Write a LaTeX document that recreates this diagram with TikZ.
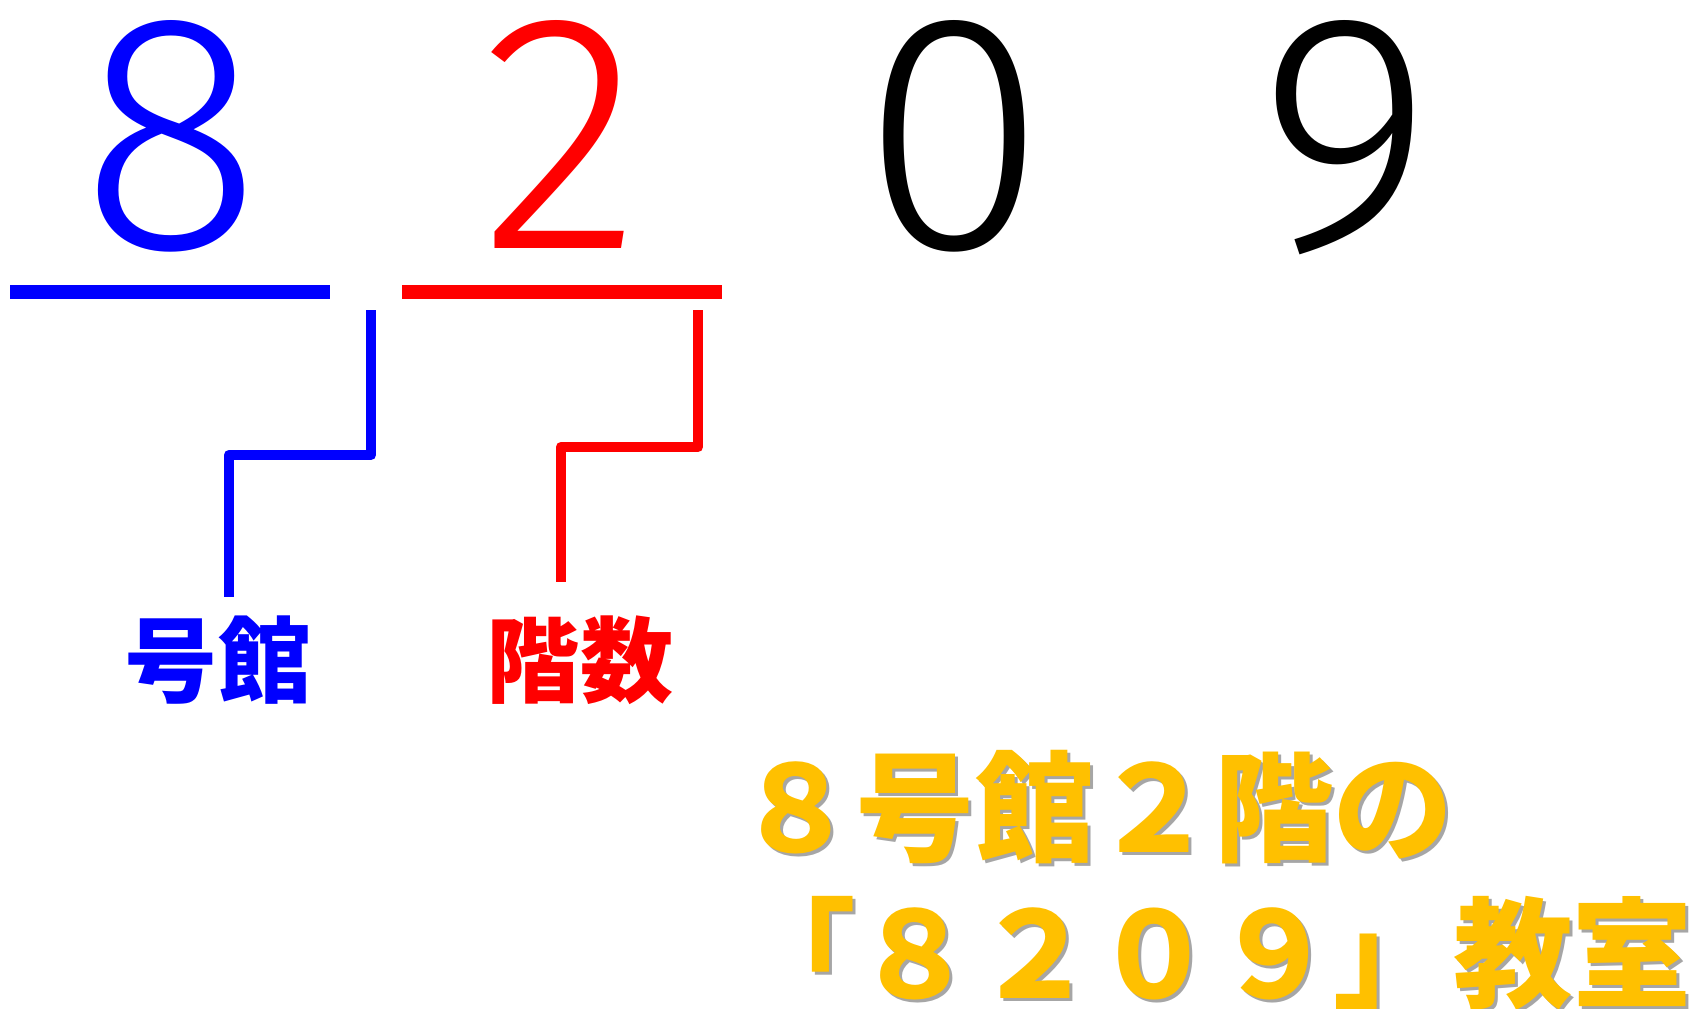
\documentclass[tikz,border=0pt]{standalone}
\usepackage{fontspec}
\setmainfont{Liberation Sans}
\newfontfamily\jpfont{Noto Sans CJK JP}
\newfontfamily\numfont{Fira Sans Light}
\definecolor{ygold}{HTML}{FFC000}
\definecolor{pblue}{HTML}{0000FF}
\definecolor{pred}{HTML}{FF0000}

\begin{document}
\begin{tikzpicture}[x=0.02cm, y=-0.02cm,
    digit/.style={inner sep=0, anchor=base, font=\numfont\fontsize{192}{192}\selectfont},
    bar/.style={line width=0.28cm},
    link/.style={line width=0.21cm, line join=round},
    part/.style={inner sep=0, font=\jpfont\bfseries\fontsize{53}{53}\selectfont},
    room/.style={inner sep=0, anchor=base west, font=\jpfont\bfseries\fontsize{68}{68}\selectfont}
]
\useasboundingbox (0,0) rectangle (1696,1008);

\node[digit, pblue] (d8) at (171,248) {8};
\node[digit, pred] (d2) at (561,248) {2};
\node[digit, black] (d0) at (954,248) {0};
\node[digit, black] (d9) at (1346,248) {9};

\coordinate (b8l) at (10,292);
\coordinate (b8r) at (330,292);
\coordinate (b2l) at (402,292);
\coordinate (b2r) at (722,292);
\draw[bar, pblue] (b8l) -- (b8r);
\draw[bar, pred] (b2l) -- (b2r);

\node[part, pblue] (gokan) at (218,660) {号館};
\node[part, pred] (kaisu) at (580,660) {階数};

\coordinate (t8) at (371,310);
\coordinate (e8) at (229,597);
\coordinate (t2) at (698,310);
\coordinate (e2) at (561,582);
\draw[link, pblue] (t8) -- ++(0,145) -| (e8);
\draw[link, pred] (t2) -- ++(0,137) -| (e2);

\node[room, black!35] (l1s) at (739,855) {８号館２階の};
\node[room, ygold] (l1) at (736,852) {８号館２階の};
\node[room, black!35] (l2s) at (739,1001) {「８２０９」教室};
\node[room, ygold] (l2) at (736,998) {「８２０９」教室};
\end{tikzpicture}
\end{document}
